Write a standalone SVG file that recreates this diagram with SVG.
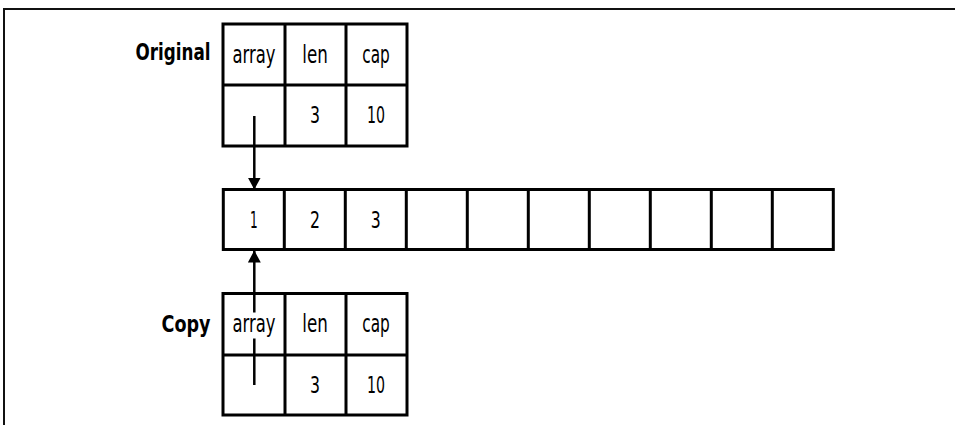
<svg xmlns="http://www.w3.org/2000/svg" width="955" height="425" viewBox="0 0 955 425">
<style>
.cell{fill:#fff;stroke:#000;stroke-width:3}
.grid{fill:none;stroke:#000;stroke-width:3}
.t{font-family:"DejaVu Sans Condensed","DejaVu Sans","Liberation Sans",sans-serif;font-stretch:condensed;font-size:24px;fill:#000;text-anchor:middle}
.n{font-family:"DejaVu Sans Condensed","DejaVu Sans","Liberation Sans",sans-serif;font-stretch:condensed;font-size:23px;fill:#000;text-anchor:middle}
.lbl{font-family:"DejaVu Sans Condensed","DejaVu Sans","Liberation Sans",sans-serif;font-stretch:condensed;font-weight:bold;font-size:23.5px;fill:#000;text-anchor:end}
.frame{fill:none;stroke:#111;stroke-width:2}
.conn{fill:none;stroke:#000;stroke-width:2.5}
</style>
<defs>
<marker id="ah" markerUnits="userSpaceOnUse" markerWidth="12" markerHeight="13" refX="12" refY="6.5" orient="auto">
<path d="M0,0 L12,6.5 L0,13 z" fill="#000"/>
</marker>
</defs>
<rect width="955" height="425" fill="#fff"/>
<path class="frame" d="M4,425 V9 H955"/>

<g id="original">
<text class="lbl" x="210.5" y="60" textLength="75" lengthAdjust="spacingAndGlyphs">Original</text>
<rect class="cell" x="223" y="24" width="184" height="122"/>
<path class="grid" d="M223,85 H407 M285,24 V146 M346,24 V146"/>
<text class="t" x="254" y="63" textLength="43" lengthAdjust="spacingAndGlyphs">array</text>
<text class="t" x="315" y="63" textLength="25.5" lengthAdjust="spacingAndGlyphs">len</text>
<text class="t" x="376" y="63" textLength="27.5" lengthAdjust="spacingAndGlyphs">cap</text>
<text class="n" x="315" y="123.3" textLength="10" lengthAdjust="spacingAndGlyphs">3</text>
<text class="n" x="376" y="123.3" textLength="18" lengthAdjust="spacingAndGlyphs">10</text>
</g>

<g id="array">
<rect class="cell" x="223.3" y="189.5" width="610" height="60"/>
<path class="grid" d="M284.3,189.5 V249.5 M345.3,189.5 V249.5 M406.3,189.5 V249.5 M467.3,189.5 V249.5 M528.3,189.5 V249.5 M589.3,189.5 V249.5 M650.3,189.5 V249.5 M711.3,189.5 V249.5 M772.3,189.5 V249.5"/>
<text class="n" x="253.8" y="227.5" textLength="7.7" lengthAdjust="spacingAndGlyphs">1</text>
<text class="n" x="315" y="227.5" textLength="10" lengthAdjust="spacingAndGlyphs">2</text>
<text class="n" x="375.8" y="227.5" textLength="10" lengthAdjust="spacingAndGlyphs">3</text>
</g>

<g id="copy">
<text class="lbl" x="210.5" y="331.7" textLength="49" lengthAdjust="spacingAndGlyphs">Copy</text>
<rect class="cell" x="223" y="293.5" width="184" height="121.5"/>
<path class="grid" d="M223,355 H407 M285,293.5 V415 M346,293.5 V415"/>
<text class="t" x="254" y="332" textLength="43" lengthAdjust="spacingAndGlyphs">array</text>
<text class="t" x="315" y="332" textLength="25.5" lengthAdjust="spacingAndGlyphs">len</text>
<text class="t" x="376" y="332" textLength="27.5" lengthAdjust="spacingAndGlyphs">cap</text>
<text class="n" x="315" y="393" textLength="10" lengthAdjust="spacingAndGlyphs">3</text>
<text class="n" x="376" y="393" textLength="18" lengthAdjust="spacingAndGlyphs">10</text>
</g>

<g id="connectors">
<path class="conn" d="M254.3,116 V189.5" marker-end="url(#ah)"/>
<path class="conn" d="M254.3,385 V338.5 M254.3,312.5 V250.5" marker-end="url(#ah)"/>
</g>
</svg>
